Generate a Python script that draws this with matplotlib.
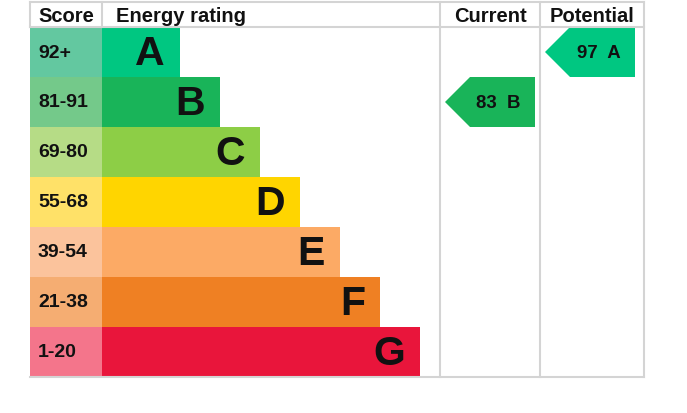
import matplotlib
matplotlib.use("Agg")
import matplotlib.pyplot as plt
from matplotlib.patches import Rectangle, Polygon

bands = ["A", "B", "C", "D", "E", "F", "G"]
score_ranges = ["92+", "81-91", "69-80", "55-68", "39-54", "21-38", "1-20"]
band_min = [92, 81, 69, 55, 39, 21, 1]
score_colors = ["#63c8a0", "#74c98a", "#b6dc86", "#ffe168", "#fbc39c", "#f5ad72", "#f4758b"]
bar_colors = ["#00c781", "#19b459", "#8dce46", "#ffd500", "#fcaa65", "#ef8023", "#e9153b"]
headers = ["Score", "Energy rating", "Current", "Potential"]
current_score = 83
potential_score = 97

FONT = "Liberation Sans"
fig = plt.figure(figsize=(6.87, 4.14), dpi=100)
ax = fig.add_axes([0, 0, 1, 1])
ax.set_xlim(0, 687)
ax.set_ylim(414, 0)
ax.axis("off")

left, score_w, bar_x0 = 30, 72, 102
top, head_h, row_h = 3, 25, 50
col_cur, col_pot, right = 440, 540, 644
grid_c = "#d4d4d4"

def band_of(s):
    for i, m in enumerate(band_min):
        if s >= m:
            return i
    return len(bands) - 1

y0 = top + head_h
for i, b in enumerate(bands):
    y = y0 + i * row_h
    ax.add_patch(Rectangle((left, y), score_w, row_h, color=score_colors[i], lw=0))
    w = 78 + 40 * i
    ax.add_patch(Rectangle((bar_x0, y), w, row_h, color=bar_colors[i], lw=0))
    ax.text(left + 8, y + row_h / 2, score_ranges[i], fontsize=14, fontweight="bold",
            family=FONT, va="center", ha="left", color="#111111")
    ax.text(bar_x0 + w - 15, y + row_h / 2 + 1, b, fontsize=29.5, fontweight="bold",
            family=FONT, va="center", ha="right", color="#111111")

bottom = y0 + len(bands) * row_h
for x in [left, bar_x0]:
    ax.plot([x, x], [top, y0], color=grid_c, lw=1.5)
for x in [col_cur, col_pot, right]:
    ax.plot([x, x], [top, bottom], color=grid_c, lw=1.5)
for y in [top, y0]:
    ax.plot([left, right], [y, y], color=grid_c, lw=1.5)
ax.plot([left, right], [bottom, bottom], color=grid_c, lw=1.5)

hy = top + head_h / 2 + 1.5
ax.text(left + score_w / 2, hy, headers[0], fontsize=14.5, fontweight="bold",
        family=FONT, ha="center", va="center", color="#111111")
ax.text(bar_x0 + 14, hy, headers[1], fontsize=14.5, fontweight="bold",
        family=FONT, ha="left", va="center", color="#111111")
ax.text((col_cur + col_pot) / 2, hy, headers[2], fontsize=14.5, fontweight="bold",
        family=FONT, ha="center", va="center", color="#111111")
ax.text((col_pot + right) / 2, hy, headers[3], fontsize=14.5, fontweight="bold",
        family=FONT, ha="center", va="center", color="#111111")

def arrow(col_x, score):
    i = band_of(score)
    y = y0 + i * row_h
    tip = col_x + 5
    body = tip + 25
    end = col_x + 95
    pts = [(tip, y + row_h / 2), (body, y), (end, y), (end, y + row_h), (body, y + row_h)]
    ax.add_patch(Polygon(pts, closed=True, color=bar_colors[i], lw=0))
    ax.text((body + end) / 2 - 4, y + row_h / 2 + 1, f"{score}  {bands[i]}", fontsize=13.4,
            fontweight="bold", family=FONT, ha="center", va="center", color="#111111")

arrow(col_cur, current_score)
arrow(col_pot, potential_score)

fig.savefig("out.png", dpi=100)
